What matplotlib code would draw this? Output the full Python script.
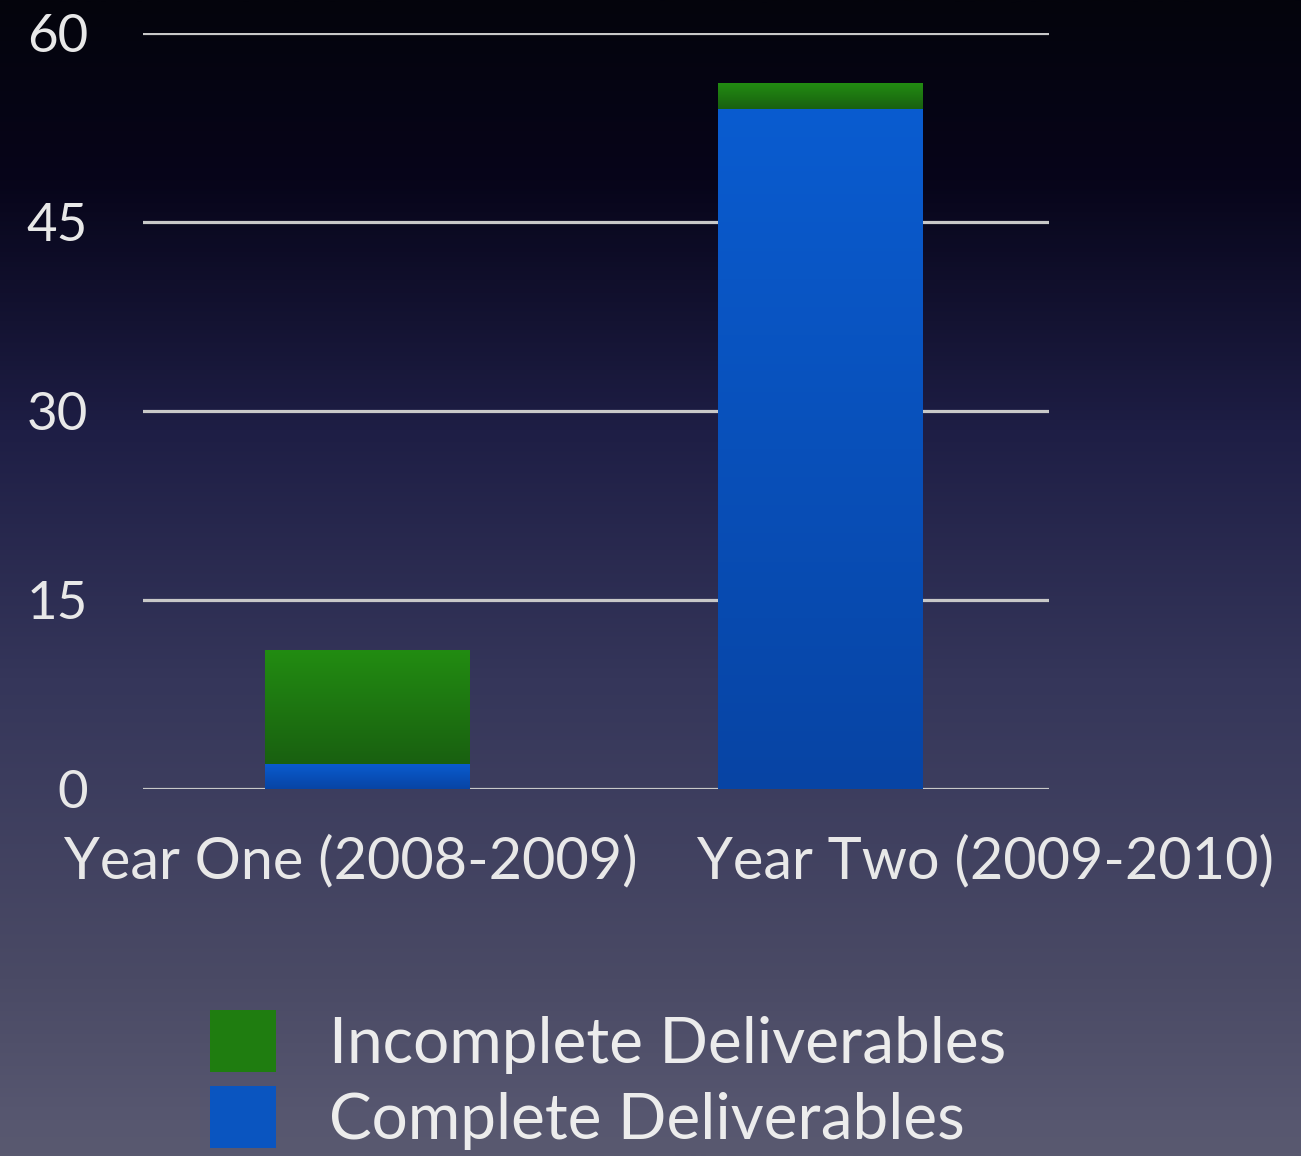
import numpy as np
import matplotlib
matplotlib.use("Agg")
import matplotlib.pyplot as plt
from matplotlib.colors import LinearSegmentedColormap
from matplotlib.transforms import ScaledTranslation

categories = ["Year One (2008-2009)", "Year Two (2009-2010)"]
complete = [2, 54]
incomplete = [9, 2]
yticks = [0, 15, 30, 45, 60]

plt.rcParams['font.family'] = ['Lato', 'DejaVu Sans']

fig = plt.figure(figsize=(13.01, 11.56), dpi=100)

# background gradient (top -> bottom)
bg = fig.add_axes([0, 0, 1, 1], zorder=-10)
bg_cmap = LinearSegmentedColormap.from_list(
    "bg", [(0.0, "#04040c"), (0.156, "#07051a"), (0.372, "#1e1e45"),
           (0.588, "#35365a"), (0.848, "#4a4a65"), (0.97, "#575770"), (1.0, "#59596f")])
bg.imshow(np.linspace(0, 1, 512).reshape(-1, 1), aspect='auto', cmap=bg_cmap,
          extent=[0, 1, 0, 1], origin='upper')
bg.axis('off')

ax = fig.add_axes([0.1099, 0.3175, 0.6964, 0.654])
ax.set_facecolor('none')
x = np.arange(len(categories))
w = 0.4525

blue_cmap = LinearSegmentedColormap.from_list("b", ["#0744a4", "#0a5cd0"])
green_cmap = LinearSegmentedColormap.from_list("g", ["#196010", "#228c12"])

b1 = ax.bar(x, complete, width=w, color="#0a55c0", zorder=3)
b2 = ax.bar(x, incomplete, width=w, bottom=complete, color="#1f7d10", zorder=3)

grad = np.linspace(0, 1, 256).reshape(-1, 1)
for bars, cmap in ((b1, blue_cmap), (b2, green_cmap)):
    for p in bars:
        x0, y0 = p.get_x(), p.get_y()
        x1, y1 = x0 + p.get_width(), y0 + p.get_height()
        im = ax.imshow(grad, aspect='auto', cmap=cmap, extent=[x0, x1, y0, y1],
                       origin='lower', zorder=4)
        im.set_clip_path(p)

ax.set_xlim(-0.495, 1.505)
ax.set_ylim(0, 60)
ax.set_yticks(yticks)
ax.yaxis.grid(True, color="#c8c8c8", lw=2.3, zorder=1)
ax.set_axisbelow(True)
for s in ax.spines.values():
    s.set_visible(False)
ax.tick_params(axis='both', length=0, colors="#e8e8e8")
ax.tick_params(axis='y', pad=39.6, labelsize=38)
ax.set_xticks(x)
ax.set_xticklabels(categories, fontsize=41.5, color="#e8e8e8")
ax.tick_params(axis='x', pad=33)
offsets = [-16, 165]
for lbl, off in zip(ax.get_xticklabels(), offsets):
    lbl.set_transform(lbl.get_transform() + ScaledTranslation(off / 100, 0, fig.dpi_scale_trans))

# legend
handles = [b2, b1]
labels = ["Incomplete Deliverables", "Complete Deliverables"]
leg = fig.legend(handles, labels, loc='upper left', bbox_to_anchor=(0.1615, 0.1265),
                 frameon=False, fontsize=46, handlelength=1.03, handleheight=1.12,
                 labelspacing=0.2, handletextpad=0.83, labelcolor="#ececec",
                 borderaxespad=0, borderpad=0)

fig.savefig("out.png", dpi=100, facecolor=fig.get_facecolor())
